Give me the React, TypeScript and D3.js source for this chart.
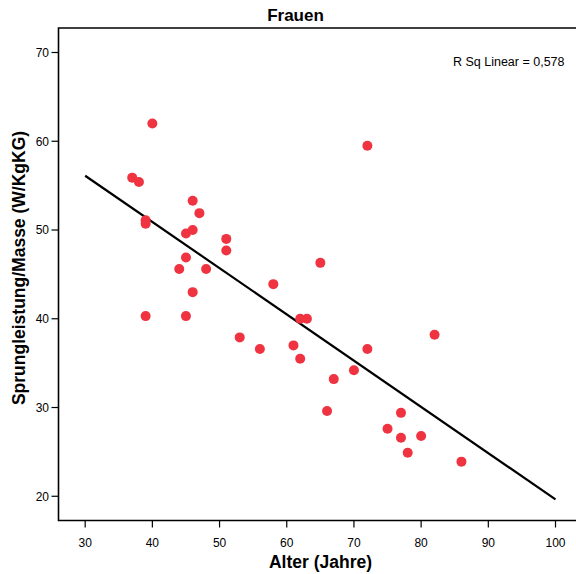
import React from "react";
import * as d3 from "d3";

const ages = [40, 37, 38, 39, 39, 46, 47, 45, 46, 51, 51, 45, 44, 48, 46, 58, 39, 45, 53, 56, 72, 65, 62, 63, 82, 61, 72, 62, 70, 67, 66, 77, 75, 77, 80, 78, 86];
const values = [62.0, 55.9, 55.4, 51.1, 50.7, 53.3, 51.9, 49.6, 50.0, 49.0, 47.7, 46.9, 45.6, 45.6, 43.0, 43.9, 40.3, 40.3, 37.9, 36.6, 59.5, 46.3, 40.0, 40.0, 38.2, 37.0, 36.6, 35.5, 34.2, 33.2, 29.6, 29.4, 27.6, 26.6, 26.8, 24.9, 23.9];
const xTicks = [30, 40, 50, 60, 70, 80, 90, 100];
const yTicks = [20, 30, 40, 50, 60, 70];
const fitRange = [30, 100];
const title = "Frauen";
const xTitle = "Alter (Jahre)";
const yTitle = "Sprungleistung/Masse (W/KgKG)";
const rsqLabel = "R Sq Linear = 0,578";

const W = 576, H = 574;
const left = 58.5, right = 576, top = 28, bottom = 520.5;

export default function App() {
  const x = d3.scaleLinear().domain([26.03, 103.05]).range([left, right]);
  const y = d3.scaleLinear().domain([17.27, 72.76]).range([bottom, top]);

  const n = ages.length;
  const mx = d3.mean(ages)!;
  const my = d3.mean(values)!;
  let sxy = 0, sxx = 0;
  for (let i = 0; i < n; i++) {
    sxy += (ages[i] - mx) * (values[i] - my);
    sxx += (ages[i] - mx) ** 2;
  }
  const b = sxy / sxx;
  const a = my - b * mx;
  const line = d3.line<number>().x((d) => x(d)).y((d) => y(a + b * d));

  const font = "'Liberation Sans', Arial, Helvetica, sans-serif";
  return (
    <svg width={W} height={H} style={{ position: "absolute", left: 0, top: 0, background: "#fff" }} fontFamily={font}>
      <rect x={0} y={0} width={W} height={H} fill="#fff" />
      <text x={295.5} y={21} textAnchor="middle" fontSize={17} fontWeight="bold">{title}</text>
      <path d={`M${right + 5},${top}H${left}V${bottom}H${right + 5}`} fill="none" stroke="#000" strokeWidth={1.6} />
      {xTicks.map((t) => (
        <g key={"x" + t}>
          <line x1={x(t)} x2={x(t)} y1={bottom} y2={bottom + 7} stroke="#000" strokeWidth={1.2} />
          <text x={x(t)} y={547} textAnchor="middle" fontSize={12}>{t}</text>
        </g>
      ))}
      {yTicks.map((t) => (
        <g key={"y" + t}>
          <line x1={left - 7} x2={left} y1={y(t)} y2={y(t)} stroke="#000" strokeWidth={1.2} />
          <text x={49} y={y(t) + 4.3} textAnchor="end" fontSize={12}>{t}</text>
        </g>
      ))}
      <text x={320.5} y={568} textAnchor="middle" fontSize={17.5} fontWeight="bold">{xTitle}</text>
      <text transform={`translate(25,${268}) rotate(-90)`} textAnchor="middle" fontSize={17.5} fontWeight="bold">{yTitle}</text>
      <text x={564.5} y={66} textAnchor="end" fontSize={12.5}>{rsqLabel}</text>
      <path d={line(fitRange)!} fill="none" stroke="#000" strokeWidth={2.2} />
      {ages.map((ag, i) => (
        <circle key={i} cx={x(ag)} cy={y(values[i])} r={5} fill="#ef3340" />
      ))}
    </svg>
  );
}
